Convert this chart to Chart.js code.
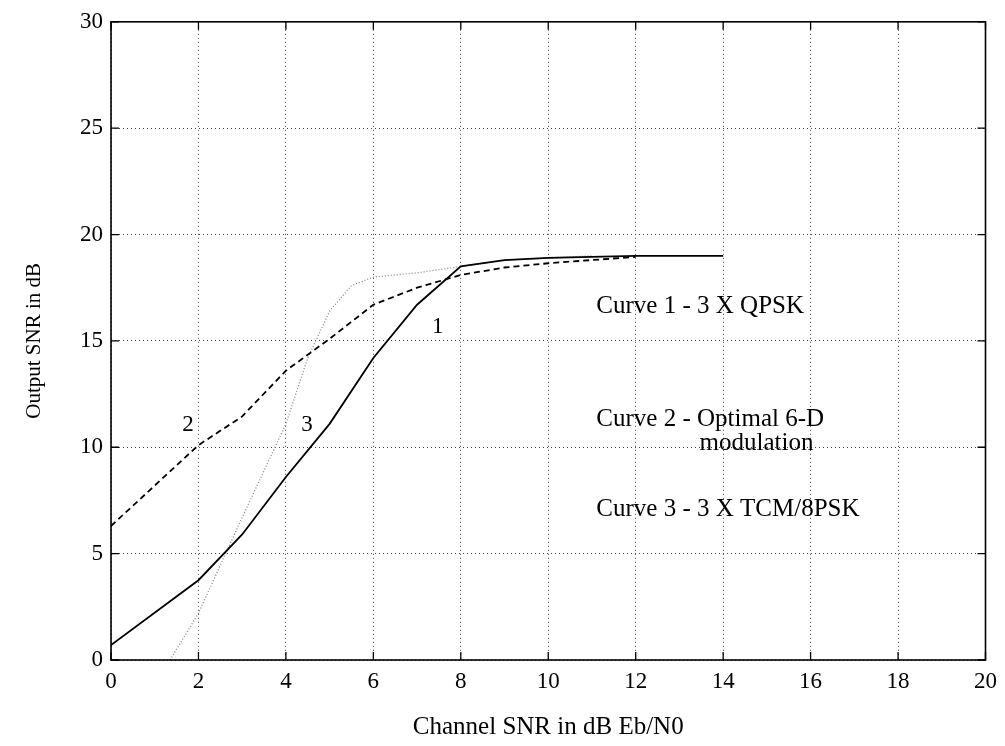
<!DOCTYPE html>
<html>
<head>
<meta charset="utf-8">
<script src="https://cdn.jsdelivr.net/npm/chart.js@4/dist/chart.umd.min.js"></script>
<style>
  html, body { margin: 0; padding: 0; background: #fff; }
  #wrap { width: 1005px; height: 746px; }
</style>
</head>
<body>
<div id="wrap"><canvas id="snr-chart" width="1005" height="746"></canvas></div>
<script>
// Output SNR vs channel SNR for the three modulation schemes
const xTicks = [0, 2, 4, 6, 8, 10, 12, 14, 16, 18, 20];
const yTicks = [0, 5, 10, 15, 20, 25, 30];

// Curve 1 - 3 X QPSK
const qpskSnr = [0, 2, 3, 4, 5, 6, 7, 8, 9, 10, 11, 12, 13, 14];
const qpskOut = [0.7, 3.75, 5.9, 8.6, 11.1, 14.2, 16.7, 18.5, 18.8, 18.9, 18.95, 19, 19, 19];

// Curve 2 - optimal 6-D modulation
const sixDSnr = [0, 1, 2, 3, 4, 5, 6, 7, 8, 9, 10, 11, 12];
const sixDOut = [6.3, 8.2, 10.1, 11.45, 13.6, 15.1, 16.7, 17.5, 18.1, 18.45, 18.65, 18.8, 18.95];

// Curve 3 - 3 X TCM/8PSK
const tcmSnr = [1.35, 2, 3, 4, 4.5, 5, 5.5, 6, 7, 8, 9, 10, 11];
const tcmOut = [0, 2.2, 6.7, 11.1, 14.2, 16.4, 17.6, 18.0, 18.2, 18.5, 18.8, 18.9, 19];

// text written inside the plot, placed in data units
const curveNumbers = [
  { text: "1", x: 7.47, y: 15.65 },
  { text: "2", x: 1.76, y: 11.07 },
  { text: "3", x: 4.48, y: 11.07 }
];
const curveNotes = [
  { text: "Curve 1 - 3 X QPSK", x: 11.1, y: 16.6 },
  { text: "Curve 2 - Optimal 6-D", x: 11.1, y: 11.3 },
  { text: "modulation", x: 13.46, y: 10.2 },
  { text: "Curve 3 - 3 X TCM/8PSK", x: 11.1, y: 7.1 }
];

const serif = "'Liberation Serif', 'Times New Roman', serif";

function toPoints(xs, ys) {
  return xs.map((x, i) => ({ x: x, y: ys[i] }));
}

// box around the plot with short inward ticks, plus the curve labels
const framePlugin = {
  id: "frame",
  afterDatasetsDraw(chart) {
    const ctx = chart.ctx;
    const a = chart.chartArea;
    const xs = chart.scales.x;
    const ys = chart.scales.y;
    ctx.save();
    ctx.strokeStyle = "#000";
    ctx.lineWidth = 1.6;
    ctx.strokeRect(a.left, a.top, a.right - a.left, a.bottom - a.top);
    ctx.lineWidth = 1.3;
    ctx.beginPath();
    xTicks.forEach(v => {
      const px = xs.getPixelForValue(v);
      ctx.moveTo(px, a.bottom); ctx.lineTo(px, a.bottom - 8);
      ctx.moveTo(px, a.top); ctx.lineTo(px, a.top + 8);
    });
    yTicks.forEach(v => {
      const py = ys.getPixelForValue(v);
      ctx.moveTo(a.left, py); ctx.lineTo(a.left + 8, py);
      ctx.moveTo(a.right, py); ctx.lineTo(a.right - 8, py);
    });
    ctx.stroke();

    ctx.fillStyle = "#000";
    ctx.textBaseline = "middle";
    ctx.textAlign = "center";
    ctx.font = "23px " + serif;
    curveNumbers.forEach(n => {
      ctx.fillText(n.text, xs.getPixelForValue(n.x), ys.getPixelForValue(n.y));
    });
    ctx.textAlign = "left";
    ctx.font = "25px " + serif;
    curveNotes.forEach(n => {
      ctx.fillText(n.text, xs.getPixelForValue(n.x), ys.getPixelForValue(n.y));
    });
    ctx.restore();
  }
};

let ctx = document.getElementById("snr-chart").getContext("2d");
let snrChart = new Chart(ctx, {
  type: "line",
  data: {
    datasets: [
      {
        label: "Curve 1",
        data: toPoints(qpskSnr, qpskOut),
        borderColor: "#000",
        borderWidth: 1.8,
        pointRadius: 0,
        tension: 0
      },
      {
        label: "Curve 2",
        data: toPoints(sixDSnr, sixDOut),
        borderColor: "#000",
        borderWidth: 1.8,
        borderDash: [6, 4],
        pointRadius: 0,
        tension: 0
      },
      {
        label: "Curve 3",
        data: toPoints(tcmSnr, tcmOut),
        borderColor: "#888",
        borderWidth: 1.3,
        borderDash: [1, 2],
        pointRadius: 0,
        tension: 0
      }
    ]
  },
  options: {
    responsive: false,
    animation: false,
    layout: { padding: { top: 18, right: 19, left: 0, bottom: 0 } },
    plugins: {
      legend: { display: false },
      tooltip: { enabled: false }
    },
    scales: {
      x: {
        type: "linear",
        min: 0,
        max: 20,
        afterBuildTicks: scale => { scale.ticks = xTicks.map(v => ({ value: v })); },
        afterFit: scale => { scale.height = 86; },
        grid: { color: "#444", lineWidth: 1, drawTicks: false },
        border: { display: false, dash: [1, 3] },
        ticks: {
          padding: 8,
          color: "#000",
          font: { family: serif, size: 23 }
        },
        title: {
          display: true,
          text: "Channel SNR in dB Eb/N0",
          color: "#000",
          font: { family: serif, size: 25 },
          padding: { top: 22 }
        }
      },
      y: {
        type: "linear",
        min: 0,
        max: 30,
        afterBuildTicks: scale => { scale.ticks = yTicks.map(v => ({ value: v })); },
        afterFit: scale => { scale.width = 111; },
        grid: { color: "#444", lineWidth: 1, drawTicks: false },
        border: { display: false, dash: [1, 3] },
        ticks: {
          padding: 8,
          color: "#000",
          font: { family: serif, size: 23 }
        },
        title: {
          display: true,
          text: "Output SNR in dB",
          color: "#000",
          font: { family: serif, size: 21 },
          padding: { bottom: 0, top: 22 }
        }
      }
    }
  },
  plugins: [framePlugin]
});
</script>
</body>
</html>
